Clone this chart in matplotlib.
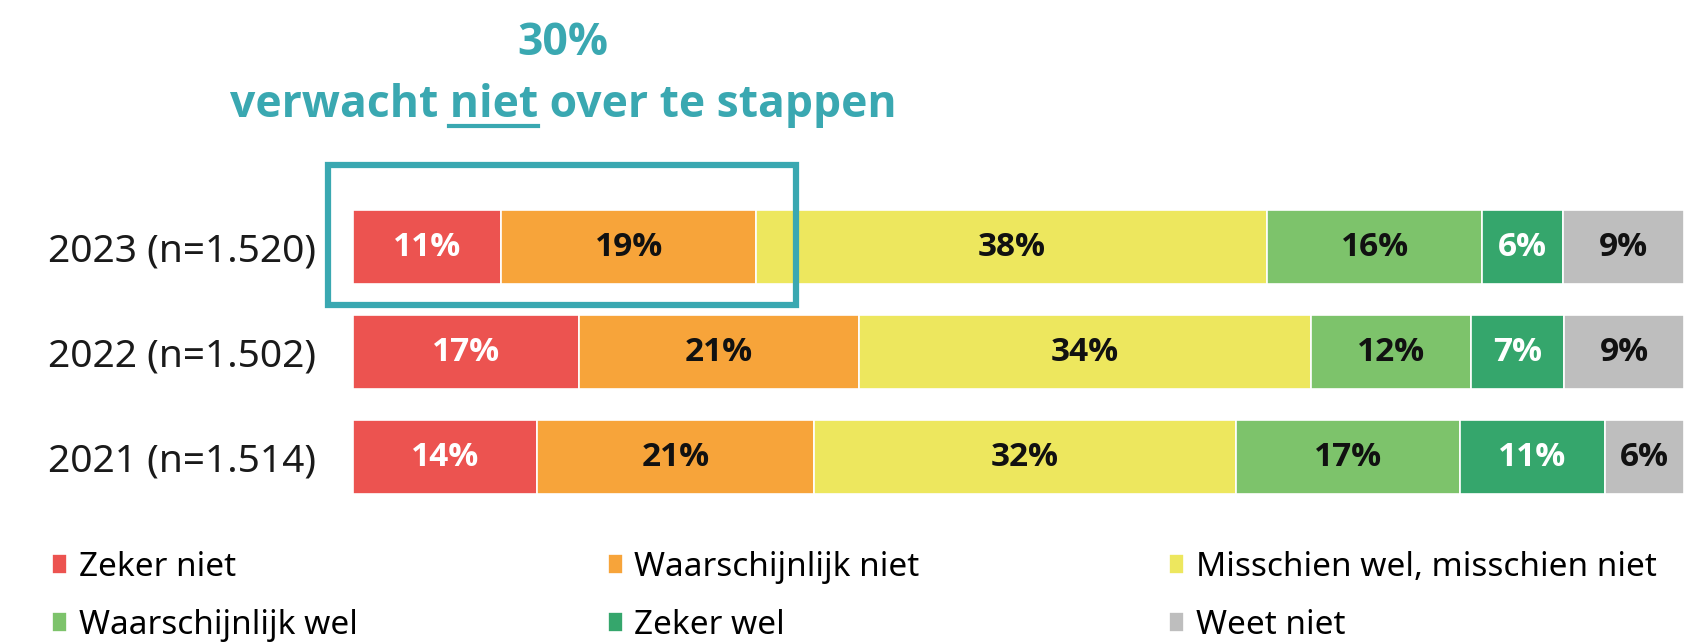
import numpy as np
import matplotlib.pyplot as plt
from matplotlib.patches import Rectangle
from matplotlib.lines import Line2D

years = ['2023 (n=1.520)', '2022 (n=1.502)', '2021 (n=1.514)']
categories = ['Zeker niet', 'Waarschijnlijk niet', 'Misschien wel, misschien niet',
              'Waarschijnlijk wel', 'Zeker wel', 'Weet niet']
zeker_niet = [11, 17, 14]
waarschijnlijk_niet = [19, 21, 21]
misschien = [38, 34, 32]
waarschijnlijk_wel = [16, 12, 17]
zeker_wel = [6, 7, 11]
weet_niet = [9, 9, 6]

colors = ['#EC5350', '#F7A43A', '#EDE75E', '#7DC36B', '#35A66C', '#BEBEBE']
label_colors = ['white', '#111111', '#111111', '#111111', 'white', '#111111']
teal = '#3AA8B1'

values = np.array([zeker_niet, waarschijnlijk_niet, misschien,
                   waarschijnlijk_wel, zeker_wel, weet_niet], dtype=float)
shares = values / values.sum(axis=0) * 100  # bars fill the full width

W, H = 1689, 643
fig = plt.figure(figsize=(W / 100, H / 100), dpi=100)
ax = fig.add_axes([353 / W, 1 - 520 / H, (1684 - 353) / W, 360 / H])

y = np.arange(len(years))
left = np.zeros(len(years))
containers = []
for i, cat in enumerate(categories):
    bc = ax.barh(y, shares[i], left=left, height=0.70, color=colors[i],
                 edgecolor='white', linewidth=1.2, label=cat)
    ax.bar_label(bc, labels=[f'{v:.0f}%' for v in values[i]], label_type='center',
                 color=label_colors[i], fontsize=24, fontweight='bold', family='Open Sans')
    containers.append(bc)
    left += shares[i]

ax.set_xlim(0, 100)
ax.set_ylim(2.6, -0.83)
ax.set_yticks(y)
ax.set_yticklabels(years, fontsize=28, family='Noto Sans', color='#1a1a1a')
ax.tick_params(axis='y', length=0, pad=27)
ax.set_xticks([])
for s in ax.spines.values():
    s.set_visible(False)

# highlight box around "niet" answers of 2023
box_right = shares[0][0] + shares[1][0] + 3.0
ax.add_patch(Rectangle((-1.9, -0.78), box_right + 1.9, 1.33, fill=False,
                       edgecolor=teal, linewidth=4.5, clip_on=False))

# header
fig.text(563 / W, 1 - 55 / H, '30%', ha='center', va='baseline', color=teal,
         fontsize=32, fontweight='bold', family='Open Sans')
line = 'verwacht niet over te stappen'
t = fig.text(563 / W, 1 - 117 / H, line, ha='center', va='baseline', color=teal,
             fontsize=32, fontweight='bold', family='Open Sans')
fig.canvas.draw()
r = fig.canvas.get_renderer()
bb = t.get_window_extent(r)
def width_of(s):
    tmp = fig.text(0, 0, s, fontsize=32, fontweight='bold', family='Open Sans')
    w = tmp.get_window_extent(r).width
    tmp.remove()
    return w
x_end = bb.x0 + width_of('verwacht niet')
x_start = x_end - width_of('niet')
y_ul = 1 - 126 / H
fig.add_artist(Line2D([x_start / W, x_end / W], [y_ul, y_ul], color=teal, linewidth=3))

# legend, row-wise order
order = [0, 3, 1, 4, 2, 5]
fig.legend([containers[i] for i in order], [categories[i] for i in order],
           loc='upper left', bbox_to_anchor=(52 / W, 1 - 551 / H), ncol=3,
           frameon=False, prop={'family': 'Noto Sans', 'size': 24},
           handlelength=0.45, handleheight=0.55, handletextpad=0.35,
           columnspacing=7.5, labelspacing=0.75, borderpad=0, borderaxespad=0)

fig.savefig('out.png', dpi=100)
